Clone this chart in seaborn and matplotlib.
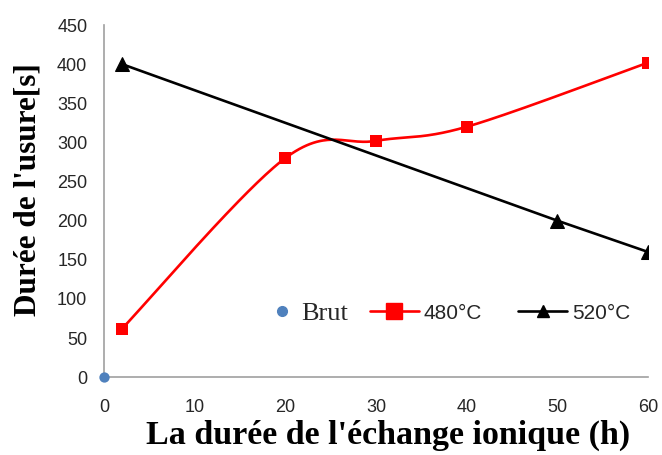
import numpy as np
import pandas as pd
import seaborn as sns
import matplotlib.pyplot as plt
from matplotlib.lines import Line2D

# Untreated sample
brut_h = [0]
brut_s = [0]

# Ion exchange at 480 °C
h_480 = [2, 20, 30, 40, 60]
s_480 = [62, 280, 302, 320, 402]

# Ion exchange at 520 °C
h_520 = [2, 50, 60]
s_520 = [400, 200, 160]

x_ticks = [0, 10, 20, 30, 40, 50, 60]
y_ticks = [0, 50, 100, 150, 200, 250, 300, 350, 400, 450]


def smooth_curve(xs, ys, sx, sy, n=60):
    """Cubic Bezier smoothing through the points (Catmull-Rom control points),
    computed in screen-proportional units."""
    p = np.column_stack([np.asarray(xs, float) * sx, np.asarray(ys, float) * sy])
    pts = np.vstack([p[0], p, p[-1]])
    t = np.linspace(0, 1, n)[:, None]
    segs = []
    for i in range(1, len(pts) - 2):
        p0, p1, p2, p3 = pts[i - 1:i + 3]
        c1 = p1 + (p2 - p0) / 6
        c2 = p2 - (p3 - p1) / 6
        segs.append((1 - t) ** 3 * p1 + 3 * (1 - t) ** 2 * t * c1
                    + 3 * (1 - t) * t ** 2 * c2 + t ** 3 * p2)
    c = np.vstack(segs)
    return c[:, 0] / sx, c[:, 1] / sy


sns.set_theme(style="white")
plt.rcParams["font.family"] = ["Liberation Sans", "DejaVu Sans"]

fig = plt.figure(figsize=(6.62, 4.55), dpi=100)
ax = fig.add_axes([0.157, 0.171, 0.822, 0.774])

x_max, y_max = 60, 450
sx, sy = 544 / x_max, 352 / y_max

red = "#FF0000"
blue = "#4F81BD"

# 480 °C smoothed line + markers
cx, cy = smooth_curve(h_480, s_480, sx, sy)
curve = pd.DataFrame({"h": cx, "s": cy})
sns.lineplot(data=curve, x="h", y="s", sort=False, estimator=None,
             color=red, linewidth=1.9, ax=ax)
sns.scatterplot(x=h_480, y=s_480, marker="s", s=80, color=red,
                edgecolor=red, linewidth=0, ax=ax, zorder=4)

# 520 °C straight line with triangles
df520 = pd.DataFrame({"h": h_520, "s": s_520})
sns.lineplot(data=df520, x="h", y="s", sort=False, estimator=None,
             color="black", linewidth=1.9, marker="^", markersize=10,
             markeredgecolor="black", ax=ax)

# Untreated sample
sns.scatterplot(x=brut_h, y=brut_s, color=blue, s=55, edgecolor=blue,
                linewidth=0, ax=ax, zorder=5, clip_on=False)

ax.set_xlim(0, x_max)
ax.set_ylim(0, y_max)
ax.set_xticks(x_ticks)
ax.set_yticks(y_ticks)

for side in ("top", "right"):
    ax.spines[side].set_visible(False)
for side in ("left", "bottom"):
    ax.spines[side].set_color("#A0A0A0")
    ax.spines[side].set_linewidth(1.2)

ax.tick_params(axis="both", which="major", direction="out", length=4,
               width=1.0, color="#A0A0A0", labelsize=13, labelcolor="#262626")
ax.tick_params(axis="y", pad=8)
ax.tick_params(axis="x", pad=12)

ax.set_xlabel("La durée de l'échange ionique (h)", fontsize=24.5,
              fontweight="bold", family="Liberation Serif", color="black")
ax.set_ylabel("Durée de l'usure[s]", fontsize=22.5, fontweight="bold",
              family="Liberation Serif", color="black")
ax.xaxis.set_label_coords(0.522, -0.122)
ax.yaxis.set_label_coords(-0.112, 0.534)

# Legend: the untreated-sample entry and the two series entries
brut_handle = Line2D([], [], linestyle="none", marker="o", markersize=7,
                     color=blue, markeredgecolor=blue)
leg1 = ax.legend([brut_handle], ["Brut"], frameon=False, loc="center",
                 bbox_to_anchor=(0.378, 0.182), prop={"family": "Liberation Serif",
                                                      "size": 19},
                 handlelength=0.8, handletextpad=0.32, borderaxespad=0,
                 borderpad=0)
ax.add_artist(leg1)

series_handles = [
    Line2D([], [], color=red, linewidth=1.9, marker="s", markersize=11,
           markeredgecolor=red),
    Line2D([], [], color="black", linewidth=1.9, marker="^", markersize=8),
]
ax.legend(series_handles, ["480°C", "520°C"], ncol=2, frameon=False,
          loc="center", bbox_to_anchor=(0.728, 0.182), fontsize=15,
          handlelength=2.35, handletextpad=0.24, columnspacing=1.73,
          borderaxespad=0, borderpad=0)

fig.savefig("out.png", dpi=100)
